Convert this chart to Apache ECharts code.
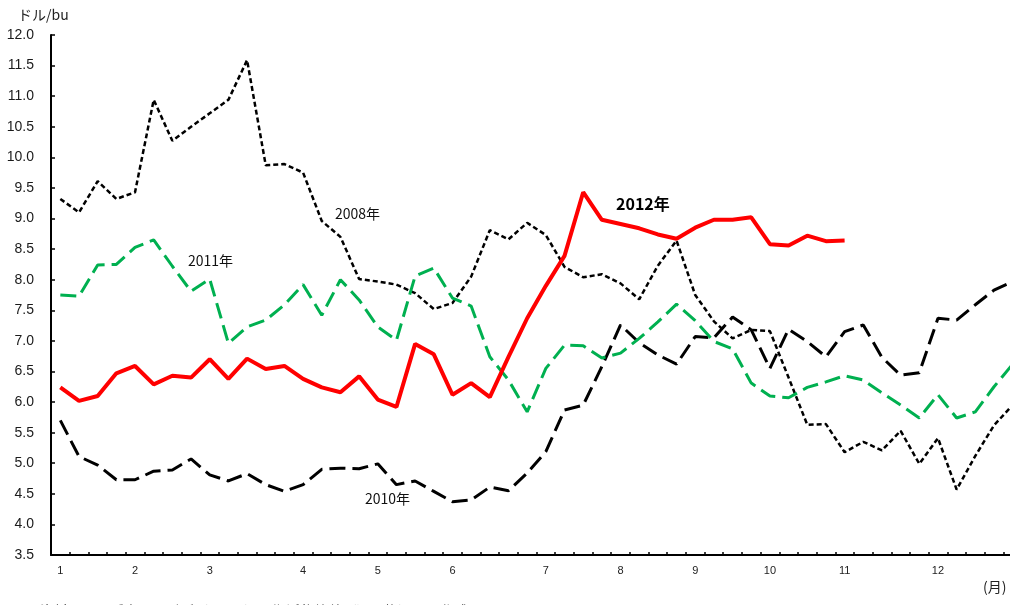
<!DOCTYPE html>
<html>
<head>
<meta charset="utf-8">
<script src="https://cdn.jsdelivr.net/npm/echarts@6/dist/echarts.min.js"></script>
<style>
html,body{margin:0;padding:0;background:#fff;overflow:hidden;width:1010px;height:605px;}
#chart{width:1030px;height:605px;}
</style>
</head>
<body>
<div id="chart"></div>
<script>
// Week categories (52 weeks); month number shown on the first week of each month
const monthStartWeeks = [0, 4, 8, 13, 17, 21, 26, 30, 34, 38, 42, 47];
const monthLabels = ['1','2','3','4','5','6','7','8','9','10','11','12'];
const weeks = [];
for (let i = 0; i < 52; i++) {
  const m = monthStartWeeks.indexOf(i);
  weeks.push(m >= 0 ? monthLabels[m] : '');
}

const y2008 = [9.32,9.10,9.61,9.32,9.43,10.94,10.27,10.50,10.72,10.94,11.59,9.87,9.89,9.75,8.96,8.70,
  8.01,7.97,7.92,7.78,7.52,7.62,8.05,8.81,8.66,8.93,8.73,8.21,8.04,8.09,7.94,7.68,8.23,8.64,
  7.75,7.32,7.04,7.18,7.16,6.40,5.63,5.64,5.18,5.35,5.21,5.53,4.99,5.41,4.57,5.12,5.62,5.95];
const y2010 = [5.70,5.11,4.97,4.73,4.73,4.87,4.89,5.07,4.81,4.71,4.83,4.65,4.54,4.65,4.90,4.92,
  4.91,4.99,4.65,4.71,4.54,4.37,4.40,4.61,4.55,4.84,5.19,5.87,5.95,6.58,7.26,6.97,6.77,6.62,
  7.07,7.05,7.39,7.18,6.55,7.19,6.99,6.74,7.15,7.26,6.73,6.44,6.48,7.37,7.34,7.59,7.83,7.97];
const y2011 = [7.75,7.73,8.24,8.25,8.53,8.65,8.22,7.81,8.01,6.96,7.23,7.34,7.59,7.92,7.42,8.00,
  7.67,7.23,7.01,8.06,8.19,7.70,7.57,6.74,6.36,5.84,6.55,6.93,6.92,6.72,6.80,7.04,7.31,7.60,
  7.33,6.99,6.87,6.31,6.10,6.07,6.24,6.33,6.43,6.36,6.15,5.95,5.74,6.12,5.74,5.84,6.25,6.62];
const y2012 = [6.24,6.02,6.10,6.47,6.59,6.29,6.43,6.40,6.70,6.38,6.71,6.54,6.59,6.38,6.24,6.16,
  6.42,6.04,5.92,6.95,6.78,6.12,6.31,6.08,6.74,7.37,7.90,8.39,9.43,8.98,8.91,8.84,8.74,8.67,
  8.85,8.98,8.98,9.02,8.58,8.56,8.72,8.63,8.64,null,null,null,null,null,null,null,null,null];

const yMin = 3.5, yMax = 12.0, yStep = 0.5;
const fontFam = '"Liberation Sans", Arial, "Noto Sans CJK JP", sans-serif';
const jpFont = '"Noto Sans CJK JP", "Liberation Sans", sans-serif';

const chart = echarts.init(document.getElementById('chart'));
chart.setOption({
  animation: false,
  backgroundColor: '#fff',
  grid: {left: 51, top: 35, bottom: 50, right: 8, containLabel: false},
  xAxis: {
    type: 'category',
    data: weeks,
    boundaryGap: true,
    axisLine: {lineStyle: {color: '#000', width: 2}},
    axisTick: {show: true, inside: true, length: 3, interval: 0, lineStyle: {color: '#000', width: 1.5}},
    axisLabel: {interval: 0, color: '#222', fontSize: 11, fontFamily: fontFam, margin: 10},
    splitLine: {show: false}
  },
  yAxis: {
    type: 'value',
    min: yMin, max: yMax, interval: yStep,
    axisLine: {show: true, lineStyle: {color: '#000', width: 2}},
    axisTick: {show: true, inside: true, length: 4, lineStyle: {color: '#000', width: 1.5}},
    axisLabel: {color: '#1a1a1a', fontSize: 14, fontFamily: fontFam, margin: 17,
      formatter: v => v.toFixed(1)},
    splitLine: {show: false}
  },
  series: [
    {name: '2008年', type: 'line', data: y2008, showSymbol: false, symbol: 'none',
      lineStyle: {color: '#000', width: 2.5, type: [5, 3]}, z: 2},
    {name: '2010年', type: 'line', data: y2010, showSymbol: false, symbol: 'none',
      lineStyle: {color: '#000', width: 3, type: [16, 7]}, z: 3},
    {name: '2011年', type: 'line', data: y2011, showSymbol: false, symbol: 'none',
      lineStyle: {color: '#00b050', width: 3, type: [16, 7]}, z: 4},
    {name: '2012年', type: 'line', data: y2012, showSymbol: false, symbol: 'none', connectNulls: false,
      lineStyle: {color: '#ff0000', width: 4}, z: 5}
  ],
  graphic: [
    {type: 'text', left: 18, top: 8, style: {text: 'ドル/bu', fill: '#222', font: '14px ' + jpFont}},
    {type: 'text', left: 335, top: 207, style: {text: '2008年', fill: '#111', font: '14px ' + jpFont}},
    {type: 'text', left: 188, top: 254, style: {text: '2011年', fill: '#111', font: '14px ' + jpFont}},
    {type: 'text', left: 616, top: 196, style: {text: '2012年', fill: '#000', font: 'bold 16px ' + jpFont}},
    {type: 'text', left: 365, top: 492, style: {text: '2010年', fill: '#111', font: '14px ' + jpFont}},
    {type: 'text', left: 983, top: 580, style: {text: '(月)', fill: '#222', font: '14px ' + jpFont}},
    {type: 'text', left: 40, top: 604, style: {text: '資料：シカゴ商品取引所（CBOT）の期近物終値（週平均）から作成', fill: '#333', font: '14px ' + jpFont}}
  ]
});
</script>
</body>
</html>
